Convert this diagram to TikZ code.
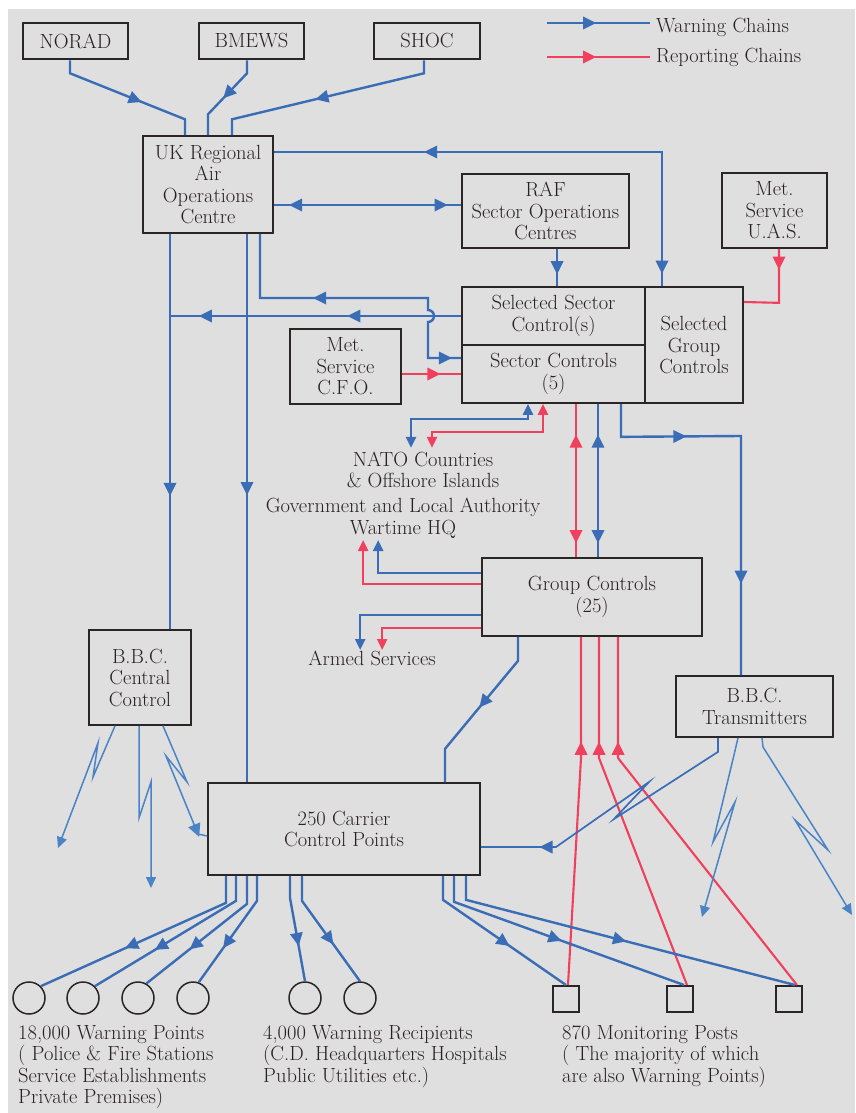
\documentclass[tikz,border=0pt]{standalone}
\usepackage{fontspec}
\usetikzlibrary{arrows.meta,shapes.geometric}

\definecolor{wblue}{HTML}{3A6DB5}
\definecolor{boltblue}{HTML}{4A84C6}
\definecolor{rred}{HTML}{F0405E}
\definecolor{inkbox}{HTML}{2A2626}
\definecolor{inktext}{HTML}{2A2024}
\definecolor{bggray}{HTML}{DFDFDF}

\tikzset{
  unitbox/.style={draw=inkbox, line width=1.7pt, align=center, inner sep=0pt, text=inktext},
  topbox/.style={unitbox, line width=2.6pt},
  txt/.style={align=center, inner sep=0pt, text=inktext},
  ring/.style={circle, draw=inkbox, line width=1.5pt, minimum size=32pt, inner sep=0pt},
  postbox/.style={rectangle, draw=inkbox, line width=2pt, minimum size=26pt, inner sep=0pt},
  wline/.style={draw=wblue, line width=2.4pt},
  rline/.style={draw=rred, line width=2.1pt},
  bolt/.style={draw=boltblue, line width=1.5pt},
  warrow/.style={isosceles triangle, isosceles triangle stretches, fill=wblue, inner sep=0pt,
    minimum width=13pt, minimum height=13pt, sloped, allow upside down},
  wback/.style={warrow, shape border rotate=180},
  rarrow/.style={warrow, fill=rred},
  rback/.style={rarrow, shape border rotate=180},
  barrow/.style={warrow, fill=boltblue},
}

\begin{document}
\begin{tikzpicture}[x=1pt, y=-1pt, >={Triangle[length=11pt,width=10pt]},
    every node/.append style={font=\fontsize{20.5pt}{21.5pt}\selectfont}]
  \useasboundingbox[fill=white] (0,0) rectangle (855,1113);
  \fill[bggray] (8,9) rectangle (855,1113);

  % boxes
  \node[topbox, minimum width=105pt, minimum height=36pt] (norad) at (75.5,41) {NORAD};
  \node[topbox, minimum width=105pt, minimum height=36pt] (bmews) at (251.5,41) {BMEWS};
  \node[topbox, minimum width=106pt, minimum height=36pt] (shoc) at (427,41) {SHOC};
  \node[unitbox, minimum width=130pt, minimum height=97pt] (ukraoc) at (208,184.5) {UK Regional\\Air\\Operations\\Centre};
  \node[unitbox, minimum width=167pt, minimum height=74pt] (raf) at (545.5,211) {RAF\\Sector Operations\\Centres};
  \node[unitbox, minimum width=105pt, minimum height=75pt] (metuas) at (774.5,210.5) {Met.\\Service\\U.A.S.};
  \node[unitbox, minimum width=183pt, minimum height=58pt] (ssc) at (553.5,316) {Selected Sector\\Control(s)};
  \node[unitbox, minimum width=183pt, minimum height=58pt] (sc) at (553.5,374) {Sector Controls\\(5)};
  \node[unitbox, minimum width=98pt, minimum height=116pt] (sgc) at (694,345) {Selected\\Group\\Controls};
  \node[unitbox, minimum width=111pt, minimum height=75pt] (metcfo) at (345.5,366.5) {Met.\\Service\\C.F.O.};
  \node[unitbox, minimum width=220pt, minimum height=78pt] (gc) at (592,597) {Group Controls\\(25)};
  \node[unitbox, minimum width=102pt, minimum height=95pt] (bbccc) at (140,677.5) {B.B.C.\\Central\\Control};
  \node[unitbox, minimum width=272pt, minimum height=92pt] (ccp) at (344,829) {250 Carrier\\Control Points};
  \node[unitbox, minimum width=157pt, minimum height=61pt] (bbctx) at (754.5,706.5) {B.B.C.\\Transmitters};

  % end points
  \foreach \n/\x in {w1/29, w2/83, w3/138, w4/193, r1/305, r2/360}
    \node[ring] (\n) at (\x,998) {};
  \foreach \n/\x in {m1/566, m2/680, m3/789}
    \node[postbox] (\n) at (\x,999) {};

  % texts
  \node[txt] (nato) at (423,470) {NATO Countries\\\& Offshore Islands};
  \node[txt] (govhq) at (403,518) {Government and Local Authority\\Wartime HQ};
  \node[txt] (armed) at (372,658) {Armed Services};
  \node[txt, align=left, anchor=north west] (wpoints) at (18,1025) {18,000 Warning Points\\( Police \& Fire Stations\\Service Establishments\\Private Premises)};
  \node[txt, align=left, anchor=north west] (wrecip) at (263,1025) {4,000 Warning Recipients\\(C.D. Headquarters Hospitals\\Public Utilities etc.)};
  \node[txt, align=left, anchor=north west] (mposts) at (562,1025) {870 Monitoring Posts\\( The majority of which\\are also Warning Points)};
  \node[txt, anchor=west] (wkey) at (656,27) {Warning Chains};
  \node[txt, anchor=west] (rkey) at (656,57) {Reporting Chains};

  % key
  \draw[wline] (547,23) -- node[warrow,pos=.39]{} ([xshift=-6]wkey.west |- 0,23);
  \draw[rline] (547,57) -- node[rarrow,pos=.39]{} ([xshift=-6]rkey.west |- 0,57);

  % early warning in
  \draw[wline] ([xshift=-5.5]norad.south) -- ++(0,13) -- node[warrow,pos=.55]{} ++(115,46) -- ([xshift=-23]ukraoc.north);
  \draw[wline] ([xshift=-4.5]bmews.south) -- ++(0,13) -- node[warrow,pos=.45]{} ++(-39,41) -- (ukraoc.north);
  \draw[wline] ([xshift=-3]shoc.south) -- ++(0,13) -- node[warrow,pos=.52]{} ++(-192,46) -- ([xshift=24]ukraoc.north);

  % sector level
  \draw[wline] (ukraoc.east |- 0,152) -- node[wback,pos=.41]{} (662,152) -- node[warrow,pos=.84]{} ([xshift=-32]sgc.north);
  \draw[wline] (ukraoc.east |- 0,205) -- node[wback,pos=.13]{} node[warrow,pos=.88]{} (raf.west |- 0,205);
  \draw[wline] ([xshift=11.5]raf.south) -- node[warrow,pos=.44]{} ([xshift=3.5]ssc.north);
  \draw[rline] ([xshift=4.5]metuas.south) -- node[rarrow,pos=.22]{} ++(0,54) -- (sgc.east |- 0,302);
  \draw[wline] ([xshift=-38]ukraoc.south) -- node[warrow,pos=.64]{} ([xshift=30]bbccc.north);
  \draw[wline] (ssc.west) -- node[warrow,pos=.36]{} node[warrow,pos=.87]{} ([xshift=-38]ukraoc.south |- ssc.west);
  \draw[wline] ([xshift=39]ukraoc.south) -- node[warrow,pos=.46]{} ([xshift=-97]ccp.north);
  \draw[wline] ([xshift=52]ukraoc.south) -- (260,298) -- node[wback,pos=.37]{} (428,298) -- (428,310)
    arc[start angle=-90, end angle=90, radius=6] -- (428,358) -- node[warrow,pos=.45]{} (sc.west |- 0,358);
  \draw[rline] (metcfo.east |- sc.west) -- node[rarrow,pos=.5]{} (sc.west);

  % sector controls out
  \draw[wline,<->] ([xshift=-25.5]sc.south) -- ++(0,15) -- ++(-117,0) -- ++(0,29);
  \draw[rline,<->] ([xshift=-10.5]sc.south) -- ++(0,28) -- ++(-111,0) -- ++(0,16);
  \draw[rline] ([xshift=22.5]sc.south) -- node[rback,pos=.26]{} node[rarrow,pos=.85]{} ([xshift=-16]gc.north);
  \draw[wline] ([xshift=44.5]sc.south) -- node[wback,pos=.26]{} node[warrow,pos=.85]{} ([xshift=6]gc.north);
  \draw[wline] ([xshift=67.5]sc.south) -- ++(0,33) -- node[warrow,pos=.47]{} (741,436) -- node[warrow,pos=.58]{} ([xshift=-13.5]bbctx.north);

  % group controls out
  \draw[wline,->] (gc.west |- 0,573) -- ++(-103,0) -- ++(0,-33);
  \draw[rline,->] (gc.west |- 0,584) -- ++(-118,0) -- ++(0,-44);
  \draw[wline,->] (gc.west |- 0,615) -- ++(-121,0) -- ++(0,35);
  \draw[rline,->] (gc.west |- 0,628) -- ++(-99,0) -- ++(0,22);
  \draw[wline] ([xshift=-74]gc.south) -- ++(0,24) -- node[warrow,pos=.45]{} ++(-73,88) -- ([xshift=101]ccp.north);

  % monitoring posts report
  \draw[rline] ([xshift=2]m1.north) -- (581,758) -- node[rarrow,pos=.06]{} ([xshift=-11]gc.south);
  \draw[rline] ([xshift=7]m2.north) -- (599,758) -- node[rarrow,pos=.06]{} ([xshift=7]gc.south);
  \draw[rline] ([xshift=8]m3.north) -- (618,758) -- node[rarrow,pos=.06]{} ([xshift=26]gc.south);

  % carrier control points out
  \draw[wline] ([xshift=-118]ccp.south) -- ++(0,27) -- node[warrow,pos=.5]{} (w1.north east);
  \draw[wline] ([xshift=-108]ccp.south) -- ++(0,25) -- node[warrow,pos=.52]{} (w2.north east);
  \draw[wline] ([xshift=-97]ccp.south) -- ++(0,28) -- node[warrow,pos=.5]{} (w3.60);
  \draw[wline] ([xshift=-87]ccp.south) -- ++(0,25) -- node[warrow,pos=.49]{} (w4.70);
  \draw[wline] ([xshift=-54]ccp.south) -- ++(0,22) -- node[warrow,pos=.47]{} (r1.north);
  \draw[wline] ([xshift=-42]ccp.south) -- ++(0,25) -- node[warrow,pos=.45]{} (r2.north);
  \draw[wline] ([xshift=99]ccp.south) -- ++(0,24) -- node[warrow,pos=.48]{} (m1.north);
  \draw[wline] ([xshift=110]ccp.south) -- ++(0,26) -- node[warrow,pos=.43]{} ([xshift=4]m2.north);
  \draw[wline] ([xshift=122]ccp.south) -- ++(0,24) -- node[warrow,pos=.46]{} ([xshift=6]m3.north);

  % broadcast links
  \draw[bolt,->] ([xshift=-25]bbccc.south) -- (93,777) -- (98,743) -- (58,848);
  \draw[bolt,->] ([xshift=-1]bbccc.south) -- (139,818) -- (151,782) -- (151,888);
  \draw[bolt] ([xshift=23]bbccc.south) -- (187,782) -- (166,756) -- node[barrow,pos=.93]{} (198,834) -- (ccp.west |- 0,836);
  \draw[wline, line width=1.7pt] ([xshift=-36.5]bbctx.south) -- ++(0,14) -- (614,819) -- (649,782) -- (556,847) -- node[warrow,pos=.1]{} (ccp.east |- 0,847);
  \draw[bolt,->] ([xshift=-16.5]bbctx.south) -- (734,755) -- (713,842) -- (735,802) -- (702,917);
  \draw[bolt,->] ([xshift=7.5]bbctx.south) -- (763,747) -- (828,850) -- (795,820) -- (852,915);
\end{tikzpicture}
\end{document}
